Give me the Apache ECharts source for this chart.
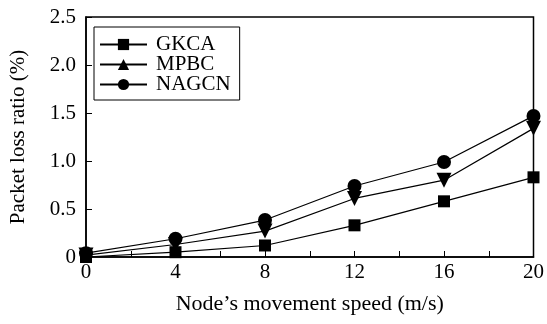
<!DOCTYPE html>
<html><head><meta charset="utf-8">
<script src="https://cdn.jsdelivr.net/npm/echarts@6/dist/echarts.min.js"></script>
<style>html,body{margin:0;padding:0;background:#fff}#c{width:547px;height:324px}</style>
</head><body><div id="c"></div>
<script>
const speeds = [0, 4, 8, 12, 16, 20];
const gkca = [0.00, 0.05, 0.12, 0.33, 0.58, 0.83];
const mpbc = [0.02, 0.13, 0.27, 0.61, 0.80, 1.34];
const nagcn = [0.04, 0.19, 0.385, 0.74, 0.99, 1.47];
const seriesNames = ['GKCA', 'MPBC', 'NAGCN'];
const xTitle = 'Node\u2019s movement speed (m/s)';
const yTitle = 'Packet loss ratio (%)';

const font = 'Liberation Serif, Times New Roman, serif';
function pts(arr){ return speeds.map((s,i)=>[s, arr[i]]); }
const base = {type:'line', lineStyle:{color:'#000', width:1.2}, itemStyle:{color:'#000'}, animation:false};
const chart = echarts.init(document.getElementById('c'));
chart.setOption({
  backgroundColor:'#fff',
  animation:false,
  grid:{left:83, right:10, top:17, bottom:67, show:true, borderColor:'#000', borderWidth:1.5},
  legend:{
    left:94, top:27, orient:'vertical', itemWidth:47, itemHeight:14, itemGap:-1,
    borderColor:'#000', borderWidth:1, padding:[7,9,5,5],
    symbolRotate:0,
    textStyle:{fontFamily:font, fontSize:21, color:'#000', lineHeight:16, padding:[0,0,0,4]},
    data:seriesNames
  },
  xAxis:{type:'value', min:0, max:20, interval:2,
    name:xTitle, nameLocation:'middle', nameGap:36,
    nameTextStyle:{fontFamily:font, fontSize:22, color:'#000'},
    axisLine:{lineStyle:{color:'#000', width:1.5}},
    axisTick:{inside:true, length:6, lineStyle:{color:'#000'}},
    splitLine:{show:false},
    axisLabel:{fontFamily:font, fontSize:21, color:'#000', margin:5,
      formatter:v=> (v%4===0? String(v):'')}
  },
  yAxis:{type:'value', min:0, max:2.5, interval:0.5,
    name:yTitle, nameLocation:'middle', nameGap:57,
    nameTextStyle:{fontFamily:font, fontSize:21, color:'#000'},
    axisLine:{lineStyle:{color:'#000', width:1.5}},
    axisTick:{inside:true, length:6, lineStyle:{color:'#000'}},
    splitLine:{show:false},
    axisLabel:{fontFamily:font, fontSize:21, color:'#000', margin:10,
      formatter:v=> (v===0?'0':v.toFixed(1))}
  },
  series:[
    Object.assign({}, base, {name:seriesNames[0], data:pts(gkca), symbol:'rect', symbolSize:12, z:3}),
    Object.assign({}, base, {name:seriesNames[1], data:pts(mpbc), symbol:'triangle', symbolRotate:180, symbolSize:15, z:4}),
    Object.assign({}, base, {name:seriesNames[2], data:pts(nagcn), symbol:'circle', symbolSize:14, z:5})
  ]
});
</script></body></html>
